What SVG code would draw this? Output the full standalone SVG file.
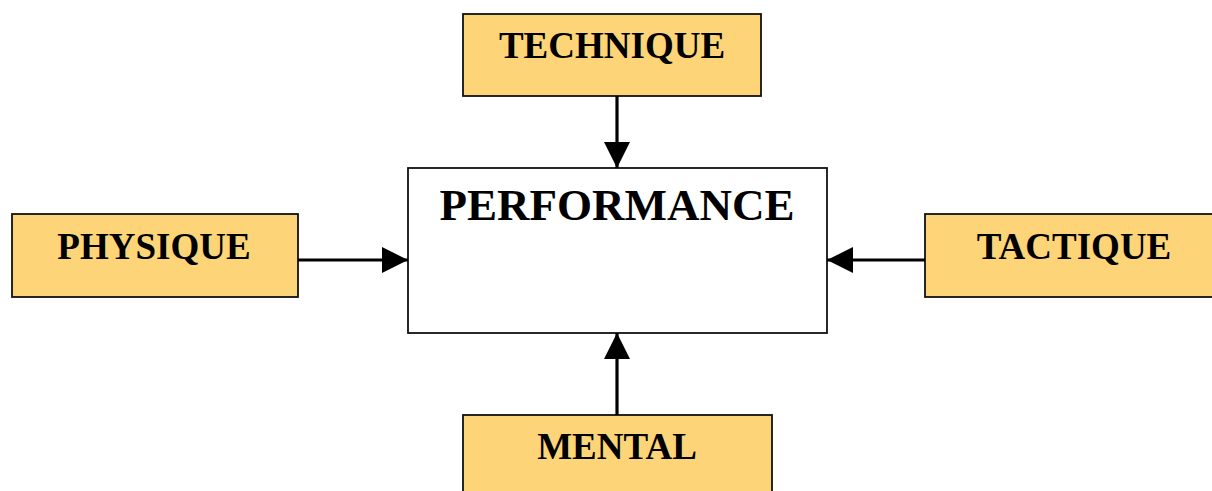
<svg xmlns="http://www.w3.org/2000/svg" width="1212" height="491" viewBox="0 0 1212 491">
<style>
.box{fill:#FED478;stroke:#111;stroke-width:1.8}
.main{fill:#fff;stroke:#111;stroke-width:1.8}
.lbl{font-family:"Liberation Serif","Times New Roman",serif;font-weight:bold;font-size:37px;fill:#000;text-anchor:middle}
.big{font-size:45px}
.conn{stroke:#000;stroke-width:3.2;fill:none}
</style>
<defs>
<marker id="ah" viewBox="0 0 26 26" refX="26" refY="13" markerWidth="26" markerHeight="26" markerUnits="userSpaceOnUse" orient="auto">
<path d="M0,0 L26,13 L0,26 Z" fill="#000"/>
</marker>
</defs>
<rect width="1212" height="491" fill="#fff"/>
<g id="performance"><rect class="main" x="408" y="168" width="419" height="165"/><text class="lbl big" x="617" y="220">PERFORMANCE</text></g>
<g id="technique"><rect class="box" x="463" y="14" width="298" height="82"/><text class="lbl" x="612" y="58">TECHNIQUE</text></g>
<g id="physique"><rect class="box" x="12" y="214" width="286" height="83"/><text class="lbl" x="154" y="259">PHYSIQUE</text></g>
<g id="tactique"><rect class="box" x="925" y="214" width="300" height="83"/><text class="lbl" x="1074" y="259">TACTIQUE</text></g>
<g id="mental"><rect class="box" x="463" y="415" width="309" height="90"/><text class="lbl" x="617" y="459">MENTAL</text></g>
<g id="connectors">
<line class="conn" x1="617" y1="96" x2="617" y2="168" marker-end="url(#ah)"/>
<line class="conn" x1="298" y1="260" x2="408" y2="260" marker-end="url(#ah)"/>
<line class="conn" x1="925" y1="260" x2="827" y2="260" marker-end="url(#ah)"/>
<line class="conn" x1="617" y1="415" x2="617" y2="333" marker-end="url(#ah)"/>
</g>
</svg>
